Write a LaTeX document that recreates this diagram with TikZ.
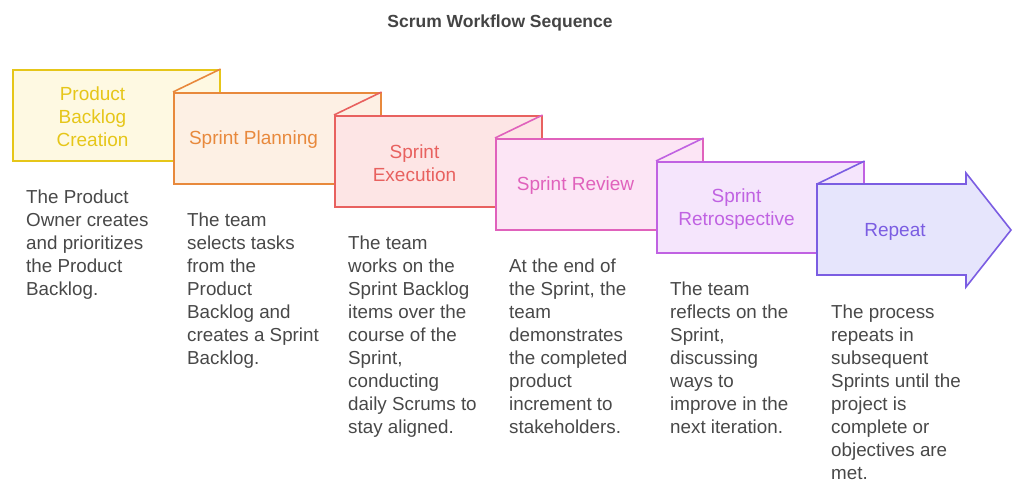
\documentclass[tikz,border=0pt]{standalone}
\usepackage{fontspec}
\setmainfont{Liberation Sans}
\definecolor{s1}{HTML}{E6C619}\definecolor{f1}{HTML}{FEF9E2}
\definecolor{s2}{HTML}{E8893C}\definecolor{f2}{HTML}{FDF0E4}
\definecolor{s3}{HTML}{E8615F}\definecolor{f3}{HTML}{FDE5E5}
\definecolor{s4}{HTML}{E062BC}\definecolor{f4}{HTML}{FCE5F5}
\definecolor{s5}{HTML}{C062E2}\definecolor{f5}{HTML}{F5E5FC}
\definecolor{s6}{HTML}{7B5DE2}\definecolor{f6}{HTML}{E6E5FC}
\definecolor{desc}{HTML}{484848}
\definecolor{ttl}{HTML}{444444}
\begin{document}
\begin{tikzpicture}[x=1pt,y=-1pt,
  stepbox/.style 2 args={draw=#1, fill=#2, line width=1.6pt, minimum width=207pt, minimum height=91pt, inner sep=0pt, anchor=north west, rectangle},
  lbl/.style={text=#1, font=\fontsize{19}{23}\selectfont, align=center, inner sep=0pt},
  dtext/.style={text=desc, font=\fontsize{18.8}{23}\selectfont, align=left, anchor=north west, inner sep=0pt},
  fold/.style={draw=#1, line width=1.6pt, line join=round}]
\useasboundingbox (0,0) rectangle (1024,494);
\node[font=\fontsize{17.5}{20}\selectfont\bfseries, text=ttl] (title) at (500,23) {Scrum Workflow Sequence};
% boxes
\node[stepbox={s1}{f1}] (b1) at (12,69) {};
\node[stepbox={s2}{f2}] (b2) at (173,92) {};
\draw[fold=s2] (b2.north west) -- (b1.north east);
\node[stepbox={s3}{f3}] (b3) at (334,115) {};
\draw[fold=s3] (b3.north west) -- (b2.north east);
\node[stepbox={s4}{f4}] (b4) at (495,138) {};
\draw[fold=s4] (b4.north west) -- (b3.north east);
\node[stepbox={s5}{f5}] (b5) at (656,161) {};
\draw[fold=s5] (b5.north west) -- (b4.north east);
\coordinate (a1) at (817,184);
\draw[draw=s6, fill=f6, line width=1.6pt, line join=miter] (a1) -- (966,184) -- (966,173) -- (1011,230) -- (966,287) -- (966,275) -- (817,275) -- cycle;
\draw[fold=s6] (a1) -- (b5.north east);
% labels
\node[lbl=s1] (l1) at (92.5,117) {Product\\Backlog\\Creation};
\node[lbl=s2] (l2) at (253.5,140) {Sprint Planning};
\node[lbl=s3] (l3) at (414.5,163) {Sprint\\Execution};
\node[lbl=s4] (l4) at (575.5,186) {Sprint Review};
\node[lbl=s5] (l5) at (736.5,209) {Sprint\\Retrospective};
\node[lbl=s6] (l6) at (895,232) {Repeat};
% descriptions
\node[dtext] (d1) at (26,189.3) {The Product\\Owner creates\\and prioritizes\\the Product\\Backlog.};
\node[dtext] (d2) at (187,212.3) {The team\\selects tasks\\from the\\Product\\Backlog and\\creates a Sprint\\Backlog.};
\node[dtext] (d3) at (348,235.3) {The team\\works on the\\Sprint Backlog\\items over the\\course of the\\Sprint,\\conducting\\daily Scrums to\\stay aligned.};
\node[dtext] (d4) at (509,258.3) {At the end of\\the Sprint, the\\team\\demonstrates\\the completed\\product\\increment to\\stakeholders.};
\node[dtext] (d5) at (670,281.3) {The team\\reflects on the\\Sprint,\\discussing\\ways to\\improve in the\\next iteration.};
\node[dtext] (d6) at (831,304.3) {The process\\repeats in\\subsequent\\Sprints until the\\project is\\complete or\\objectives are\\met.};
\end{tikzpicture}
\end{document}
